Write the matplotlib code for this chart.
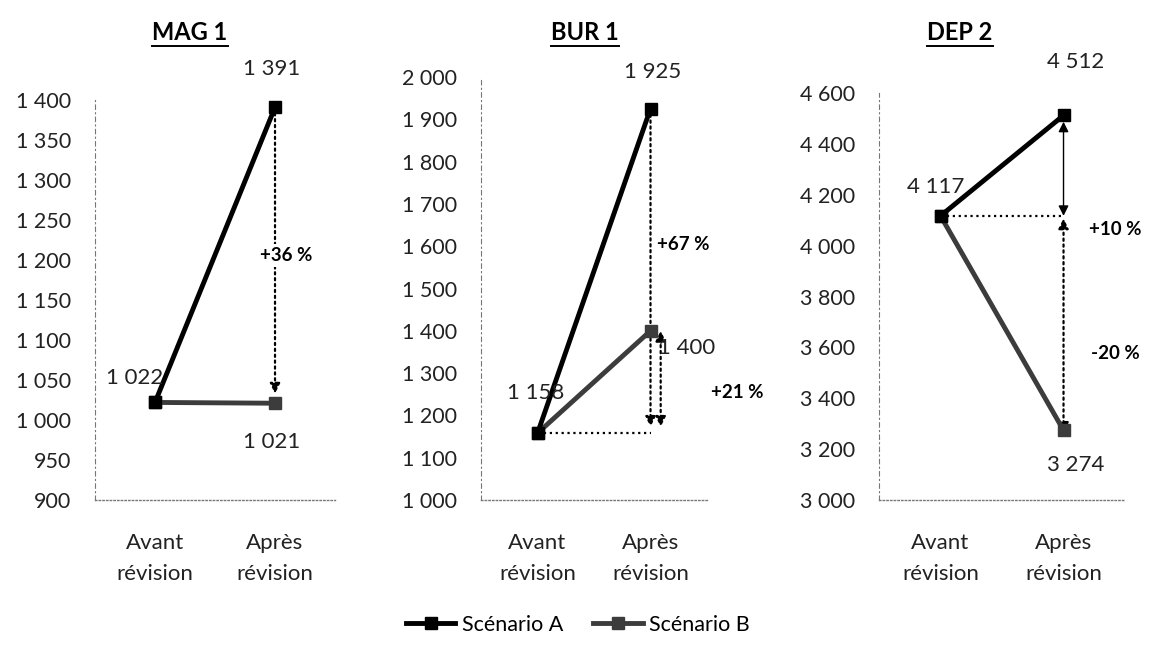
import matplotlib

matplotlib.use("Agg")
import matplotlib.pyplot as plt  # noqa: E402
from matplotlib.lines import Line2D  # noqa: E402
from matplotlib.ticker import FuncFormatter  # noqa: E402

plt.rcParams["font.family"] = ["Lato", "DejaVu Sans"]

# ---- data -----------------------------------------------------------------
categories = ["Avant\nrévision", "Après\nrévision"]
panel_titles = ["MAG 1", "BUR 1", "DEP 2"]
scenario_a = [[1022, 1391], [1158, 1925], [4117, 4512]]
scenario_b = [[1022, 1021], [1158, 1400], [4117, 3274]]
y_ranges = [(900, 1400, 50), (1000, 2000, 100), (3000, 4600, 200)]
series_names = ["Scénario A", "Scénario B"]

fig = plt.figure(figsize=(11.56, 6.45), dpi=100)
boxes = [
    [0.0822, 0.2248, 0.2076, 0.620],
    [0.4161, 0.2248, 0.1955, 0.6558],
    [0.7604, 0.2248, 0.2128, 0.631],
]
title_x = [190, 585, 960]


def space_thousands(v, _pos):
    return f"{int(v):,}".replace(",", " ")


axes = []
titles = []
for i, box in enumerate(boxes):
    ax = fig.add_axes(box)
    axes.append(ax)
    x = range(len(categories))
    ax.plot(x, scenario_a[i], color="black", lw=3.5, marker="s", ms=8.5,
            zorder=4, label=series_names[0])
    ax.plot(x, scenario_b[i], color="#3c3c3c", lw=3.5, marker="s", ms=8.5,
            zorder=3, label=series_names[1])

    lo, hi, step = y_ranges[i]
    ax.set_ylim(lo, hi)
    ax.set_yticks(range(lo, hi + 1, step))
    ax.yaxis.set_major_formatter(FuncFormatter(space_thousands))
    ax.set_xlim(-0.5, 1.5)
    ax.set_xticks(list(x))
    ax.set_xticklabels(categories, color="#222222", linespacing=1.65)
    ax.tick_params(axis="y", length=0, pad=17, labelsize=15.5, colors="#222222")
    ax.tick_params(axis="x", length=0, pad=24, labelsize=16)

    for side in ("top", "right"):
        ax.spines[side].set_visible(False)
    ax.spines["left"].set_linestyle((0, (4, 3, 1, 3)))
    ax.spines["left"].set_color("#777777")
    ax.spines["left"].set_linewidth(0.8)
    ax.spines["bottom"].set_linestyle(":")
    ax.spines["bottom"].set_color("#777777")
    ax.spines["bottom"].set_linewidth(1.0)

    titles.append(fig.text(title_x[i] / 1156, 1 - 33 / 645, panel_titles[i],
                           ha="center", va="center", fontsize=17,
                           fontweight="bold"))

label_kw = dict(textcoords="offset pixels", ha="center", va="center",
                fontsize=16, color="#222222", zorder=6)
pct_kw = dict(ha="center", va="center", fontsize=13.5, fontweight="bold",
              zorder=6, bbox=dict(facecolor="white", edgecolor="none", pad=2))
dot_arrow = dict(arrowstyle="-|>", linestyle=":", lw=1.6, color="black",
                 mutation_scale=15, shrinkA=0, shrinkB=0)
dot_double = dict(arrowstyle="<|-|>", linestyle=":", lw=1.6, color="black",
                  mutation_scale=15, shrinkA=0, shrinkB=0)

# ---- MAG 1 ---------------------------------------------------------------
ax = axes[0]
a, b = scenario_a[0], scenario_b[0]
ax.annotate(space_thousands(a[0], 0), (0, a[0]), xytext=(-20, 24), **label_kw)
ax.annotate(space_thousands(a[1], 0), (1, a[1]), xytext=(-3, 38), **label_kw)
ax.annotate(space_thousands(b[1], 0), (1, b[1]), xytext=(-3, -39), **label_kw)
ax.annotate("", xy=(1, b[1] + 12), xytext=(1, a[1]), arrowprops=dot_arrow,
            zorder=2)
ax.text(1.09, (a[1] + b[1]) / 2, "+36 %", **pct_kw)

# ---- BUR 1 ---------------------------------------------------------------
ax = axes[1]
a, b = scenario_a[1], scenario_b[1]
ax.annotate(space_thousands(a[0], 0), (0, a[0]), xytext=(-2, 40), **label_kw)
ax.annotate(space_thousands(a[1], 0), (1, a[1]), xytext=(2, 37), **label_kw)
ax.annotate(space_thousands(b[1], 0), (1, b[1]), xytext=(36, -17), **label_kw)
ax.plot([0, 1], [a[0], a[0]], color="black", ls=":", lw=1.6, zorder=2)
ax.annotate("", xy=(1, a[0] + 15), xytext=(1, a[1]), arrowprops=dot_arrow,
            zorder=2)
ax.annotate("", xy=(1.09, a[0] + 15), xytext=(1.09, b[1]),
            arrowprops=dot_double, zorder=2)
ax.text(1.29, 1603, "+67 %", **pct_kw)
ax.text(1.77, 1253, "+21 %", clip_on=False, **pct_kw)

# ---- DEP 2 ---------------------------------------------------------------
ax = axes[2]
a, b = scenario_a[2], scenario_b[2]
ax.annotate(space_thousands(a[0], 0), (0, a[0]), xytext=(-5, 29), **label_kw)
ax.annotate(space_thousands(a[1], 0), (1, a[1]), xytext=(12, 53), **label_kw)
ax.annotate(space_thousands(b[1], 0), (1, b[1]), xytext=(12, -35), **label_kw)
ax.plot([0, 1], [a[0], a[0]], color="black", ls=":", lw=1.6, zorder=2)
ax.annotate("", xy=(1, a[1] - 25), xytext=(1, a[0]),
            arrowprops=dict(arrowstyle="<|-|>", lw=1.0, color="black",
                            mutation_scale=15, shrinkA=0, shrinkB=0), zorder=2)
ax.annotate("", xy=(1, b[1] - 10), xytext=(1, a[0] - 10),
            arrowprops=dot_double, zorder=2)
ax.text(1.42, 4063, "+10 %", clip_on=False, **pct_kw)
ax.text(1.42, 3575, "-20 %", clip_on=False, **pct_kw)

# ---- underline the titles -------------------------------------------------
fig.canvas.draw()
renderer = fig.canvas.get_renderer()
inv = fig.transFigure.inverted()
for t in titles:
    bb = t.get_window_extent(renderer)
    (x0, y0), (x1, _y1) = inv.transform([(bb.x0, bb.y0), (bb.x1, bb.y1)])
    fig.add_artist(Line2D([x0, x1], [y0 - 0.002, y0 - 0.002],
                          color="black", lw=1.4, transform=fig.transFigure))

handles = [
    Line2D([], [], color="black", lw=3.5, marker="s", ms=8.5),
    Line2D([], [], color="#3c3c3c", lw=3.5, marker="s", ms=8.5),
]
fig.legend(handles, series_names, loc="center", bbox_to_anchor=(0.5, 0.031),
           ncol=2, frameon=False, fontsize=15.5, handlelength=2.3,
           columnspacing=1.4, handletextpad=0.3)

fig.savefig("out.png", dpi=100)
